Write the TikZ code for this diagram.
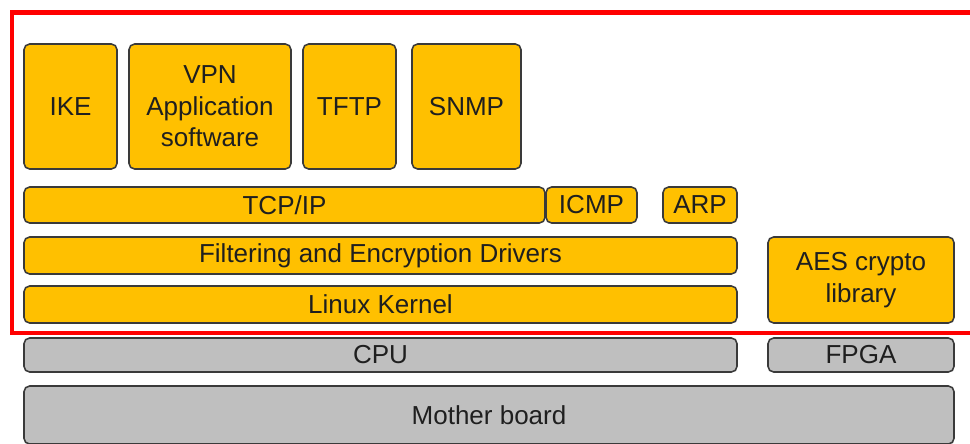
\documentclass[tikz,border=0pt]{standalone}
\usepackage{fontspec}
\setmainfont{Liberation Sans}
\usepackage{tikz}
\definecolor{swfill}{HTML}{FFC000}
\definecolor{hwfill}{HTML}{BFBFBF}
\definecolor{boxedge}{HTML}{3A3A3A}
\definecolor{framered}{HTML}{FF0000}
\tikzset{
  layer/.style={draw=boxedge, line width=1.1pt, rounded corners=4pt},
  sw/.style={layer, fill=swfill},
  hw/.style={layer, fill=hwfill},
  lbl/.style={align=center, text=black!88, inner sep=0pt, font=\fontsize{18.5}{22.4}\selectfont},
}

\begin{document}
\begin{tikzpicture}[x=0.025cm, y=-0.025cm]
\useasboundingbox (0,0) rectangle (970,443);
\clip (0,0) rectangle (970,443);
% applications
\draw[sw] (24,44) rectangle (117,169) node[midway, lbl] (ike) {IKE};
\draw[sw] (129,44) rectangle (291,169) node[midway, lbl] (vpn) {VPN\\Application\\software};
\draw[sw] (303,44) rectangle (396,169) node[midway, lbl] (tftp) {TFTP};
\draw[sw] (412,44) rectangle (521,169) node[midway, lbl] (snmp) {SNMP};
% protocols
\draw[sw] (24,187) rectangle (545,223) node[midway, lbl] (tcpip) {TCP/IP};
\draw[sw] (546,187) rectangle (637,223) node[midway, lbl] (icmp) {ICMP};
\draw[sw] (663,187) rectangle (737,223) node[midway, lbl] (arp) {ARP};
% drivers and kernel
\draw[sw] (24,237) rectangle (737,274) node[midway, lbl] (filter) {Filtering and Encryption Drivers};
\draw[sw] (24,286) rectangle (737,323) node[midway, lbl] (kernel) {Linux Kernel};
\draw[sw] (768,237) rectangle (954,323) node[midway, lbl] (aes) {AES crypto\\library};
% hardware
\draw[hw] (24,338) rectangle (737,372) node[midway, lbl] (cpu) {CPU};
\draw[hw] (768,338) rectangle (954,372) node[midway, lbl] (fpga) {FPGA};
\draw[hw] (24,386) rectangle (954,444) node[midway, lbl] (board) {Mother board};
% software part
\draw[framered, line width=3.3pt] (12,12.5) rectangle (1000,333);
\end{tikzpicture}
\end{document}
